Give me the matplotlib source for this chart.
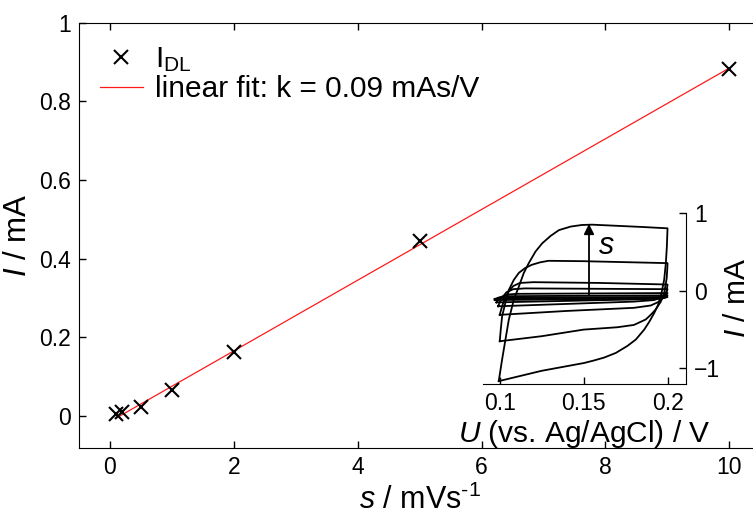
import numpy as np
import matplotlib
matplotlib.use("Agg")
import matplotlib.pyplot as plt
from matplotlib.lines import Line2D
from matplotlib.ticker import FuncFormatter

plt.rcParams["font.family"] = ["Liberation Sans", "DejaVu Sans"]
plt.rcParams["mathtext.fontset"] = "custom"
plt.rcParams["mathtext.rm"] = "Liberation Sans"
plt.rcParams["mathtext.it"] = "Liberation Sans:italic"

# Double-layer current vs. scan rate
scan_rate = [0.1, 0.2, 0.5, 1, 2, 5, 10]           # mV/s
i_dl = [0.005, 0.010, 0.023, 0.066, 0.162, 0.444, 0.882]  # mA

x_ticks = [0, 2, 4, 6, 8, 10]
y_ticks = [0, 0.2, 0.4, 0.6, 0.8, 1.0]

# Cyclic voltammograms (U in V vs. Ag/AgCl, I in mA), one closed loop per scan rate
cv_u_10 = [0.0994, 0.1014, 0.1034, 0.1054, 0.1084, 0.1114, 0.1143, 0.1173, 0.1213, 0.1253,
           0.1303, 0.1353, 0.1422, 0.149, 0.155, 0.170, 0.185, 0.200,
           0.1996, 0.1990, 0.1980, 0.1964, 0.1944, 0.1920, 0.1891, 0.1861, 0.1811, 0.1761,
           0.1692, 0.1622, 0.1562, 0.1502, 0.125, 0.0994]
cv_i_10 = [-1.163, -0.885, -0.628, -0.372, -0.115, 0.055, 0.227, 0.355, 0.504, 0.61,
           0.705, 0.78, 0.825, 0.846, 0.85, 0.835, 0.82, 0.803,
           0.568, 0.355, 0.141, -0.03, -0.18, -0.29, -0.40, -0.50, -0.628, -0.71,
           -0.80, -0.86, -0.897, -0.93, -1.03, -1.163]

cv_u_5 = [0.100, 0.1006, 0.1014, 0.1034, 0.1054, 0.1084, 0.1114, 0.115, 0.119, 0.124, 0.129,
          0.150, 0.200,
          0.1998, 0.1995, 0.198, 0.196, 0.193, 0.190, 0.187, 0.180, 0.170, 0.150, 0.125, 0.100]
cv_i_5 = [-0.65, -0.50, -0.33, -0.15, 0.01, 0.14, 0.23, 0.29, 0.333, 0.365, 0.385,
          0.38, 0.355,
          0.26, 0.16, -0.03, -0.14, -0.24, -0.31, -0.37, -0.44, -0.47, -0.50, -0.585, -0.65]

cv_u_2 = [0.100, 0.101, 0.102, 0.1035, 0.105, 0.108, 0.112, 0.120, 0.160, 0.200,
          0.1995, 0.198, 0.195, 0.190, 0.180, 0.140, 0.100]
cv_i_2 = [-0.31, -0.23, -0.16, -0.08, -0.02, 0.06, 0.10, 0.11, 0.10, 0.08,
          0.00, -0.08, -0.14, -0.19, -0.22, -0.26, -0.31]

cv_u_1 = [0.099, 0.101, 0.104, 0.108, 0.115, 0.200,
          0.199, 0.196, 0.192, 0.180, 0.099]
cv_i_1 = [-0.20, -0.10, -0.02, 0.02, 0.03, 0.02,
          -0.04, -0.09, -0.12, -0.14, -0.20]

cv_u_05 = [0.098, 0.100, 0.104, 0.110, 0.200, 0.199, 0.195, 0.185, 0.098]
cv_i_05 = [-0.15, -0.09, -0.05, -0.04, -0.03, -0.07, -0.10, -0.11, -0.15]

cv_u_02 = [0.097, 0.099, 0.103, 0.200, 0.199, 0.195, 0.097]
cv_i_02 = [-0.12, -0.09, -0.07, -0.06, -0.08, -0.10, -0.12]

cv_u_01 = [0.097, 0.100, 0.200, 0.198, 0.097]
cv_i_01 = [-0.105, -0.09, -0.08, -0.095, -0.105]

cv_loops = [(cv_u_10, cv_i_10), (cv_u_5, cv_i_5), (cv_u_2, cv_i_2), (cv_u_1, cv_i_1),
            (cv_u_05, cv_i_05), (cv_u_02, cv_i_02), (cv_u_01, cv_i_01)]

inset_x_ticks = [0.1, 0.15, 0.2]
inset_y_ticks = [-1, 0, 1]

fmt = FuncFormatter(lambda v, p: "%g" % v)

fig = plt.figure(figsize=(7.53, 5.19), dpi=100)
ax = fig.add_axes([0.1049, 0.1374, 0.9048, 0.8192])

ax.plot(scan_rate, i_dl, linestyle="none", marker="x", color="black",
        markersize=10, markeredgewidth=1.5, zorder=3)

k, b = np.polyfit(scan_rate, i_dl, 1)
s_fit = np.array([min(scan_rate), max(scan_rate)])
ax.plot(s_fit, k * s_fit + b, color="#ff1a1a", linewidth=0.9, zorder=2)

ax.set_xlim(-0.5, 10.5)
ax.set_ylim(-0.08, 1.0)
ax.set_xticks(x_ticks)
ax.set_yticks(y_ticks)
ax.xaxis.set_major_formatter(fmt)
ax.yaxis.set_major_formatter(fmt)
ax.spines["right"].set_visible(False)
ax.tick_params(direction="in", top=True, right=False, length=5, width=1,
               labelsize=16.5, pad=6)
ax.set_xlabel("$s$ / mVs$^{\\text{-1}}$", fontsize=22, labelpad=4)
ax.set_ylabel("$I$ / mA", fontsize=22.5, labelpad=4)

handles = [Line2D([], [], linestyle="none", marker="x", color="black",
                  markersize=10, markeredgewidth=1.5),
           Line2D([], [], color="#ff1a1a", linewidth=0.9)]
labels = ["I$_\\mathregular{DL}$", "linear fit: k = %.2f mAs/V" % k]
ax.legend(handles, labels, loc="upper left", frameon=False, fontsize=21.5,
          handlelength=1.44, handletextpad=0.4, labelspacing=0.05,
          borderaxespad=0.0, bbox_to_anchor=(0.013, 0.975))

# Inset: cyclic voltammograms
axi = fig.add_axes([0.6414, 0.2601, 0.2696, 0.3295])
axi.patch.set_alpha(0)
for u, i in cv_loops:
    axi.plot(u, i, color="black", linewidth=1.3)
axi.annotate("", xy=(0.1532, 0.86), xytext=(0.1532, -0.05),
             arrowprops=dict(arrowstyle="-|>", color="black", lw=1.3,
                             mutation_scale=15, shrinkA=0, shrinkB=0))
axi.text(0.1634, 0.58, "$s$", fontsize=22, ha="center", va="center")
axi.set_xlim(0.09, 0.211)
axi.set_ylim(-1.2, 1.0)
axi.set_xticks(inset_x_ticks)
axi.set_yticks(inset_y_ticks)
axi.xaxis.set_major_formatter(fmt)
axi.spines["top"].set_visible(False)
axi.spines["left"].set_visible(False)
axi.yaxis.tick_right()
axi.yaxis.set_label_position("right")
axi.tick_params(direction="in", length=5, width=1, labelsize=16.5, pad=6)
axi.set_xlabel("$U$ (vs. Ag/AgCl) / V", fontsize=21.5, labelpad=2)
axi.set_ylabel("$I$ / mA", fontsize=21.5, labelpad=2)

fig.savefig("out.png", dpi=100)
